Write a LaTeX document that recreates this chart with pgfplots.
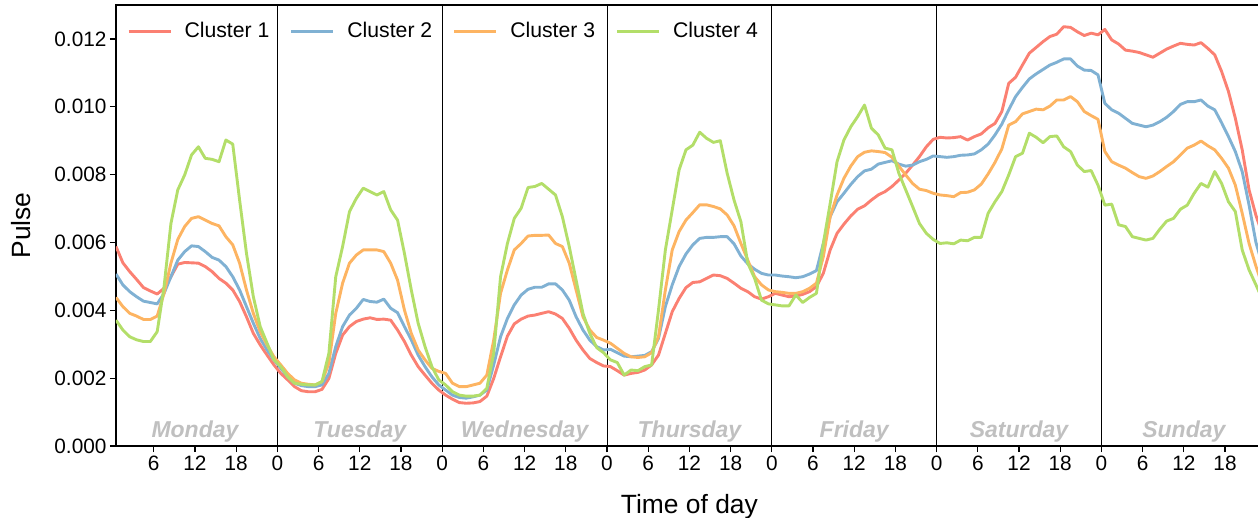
\documentclass[border=0pt]{standalone}
\usepackage{pgfplots}
\pgfplotsset{compat=1.18}
\usepackage{pgfplotstable}
\usepackage{fontspec}
\setmainfont{Liberation Sans}
\definecolor{cA}{HTML}{FB8072}
\definecolor{cB}{HTML}{80B1D3}
\definecolor{cC}{HTML}{FDB462}
\definecolor{cD}{HTML}{B3DE69}
\definecolor{daygray}{HTML}{C0C0C0}

\pgfplotstableread{
x c1 c2 c3 c4
0.5 0.00588 0.00507 0.00438 0.00371
1.5 0.00540 0.00475 0.00411 0.00342
2.5 0.00514 0.00455 0.00391 0.00322
3.5 0.00491 0.00440 0.00383 0.00313
4.5 0.00467 0.00427 0.00373 0.00308
5.5 0.00457 0.00423 0.00373 0.00308
6.5 0.00448 0.00419 0.00383 0.00337
7.5 0.00465 0.00450 0.00450 0.00470
8.5 0.00499 0.00499 0.00539 0.00656
9.5 0.00536 0.00548 0.00609 0.00755
10.5 0.00541 0.00573 0.00647 0.00799
11.5 0.00540 0.00590 0.00671 0.00858
12.5 0.00539 0.00588 0.00676 0.00882
13.5 0.00529 0.00573 0.00666 0.00848
14.5 0.00514 0.00556 0.00656 0.00845
15.5 0.00494 0.00548 0.00649 0.00838
16.5 0.00480 0.00529 0.00617 0.00902
17.5 0.00460 0.00499 0.00593 0.00890
18.5 0.00426 0.00460 0.00539 0.00725
19.5 0.00381 0.00411 0.00460 0.00568
20.5 0.00332 0.00362 0.00391 0.00440
21.5 0.00298 0.00317 0.00337 0.00352
22.5 0.00268 0.00283 0.00298 0.00303
23.5 0.00239 0.00254 0.00263 0.00254
24.5 0.00214 0.00229 0.00239 0.00234
25.5 0.00195 0.00204 0.00214 0.00204
26.5 0.00175 0.00185 0.00195 0.00185
27.5 0.00163 0.00178 0.00185 0.00182
28.5 0.00160 0.00175 0.00182 0.00180
29.5 0.00160 0.00175 0.00180 0.00180
30.5 0.00167 0.00180 0.00190 0.00190
31.5 0.00199 0.00214 0.00244 0.00273
32.5 0.00273 0.00293 0.00391 0.00499
33.5 0.00327 0.00352 0.00480 0.00588
34.5 0.00352 0.00386 0.00539 0.00691
35.5 0.00367 0.00406 0.00563 0.00730
36.5 0.00374 0.00432 0.00578 0.00760
37.5 0.00378 0.00426 0.00578 0.00750
38.5 0.00373 0.00424 0.00578 0.00740
39.5 0.00374 0.00433 0.00573 0.00750
40.5 0.00371 0.00406 0.00539 0.00696
41.5 0.00342 0.00393 0.00489 0.00666
42.5 0.00308 0.00352 0.00401 0.00568
43.5 0.00268 0.00313 0.00332 0.00460
44.5 0.00234 0.00268 0.00283 0.00362
45.5 0.00209 0.00234 0.00254 0.00293
46.5 0.00185 0.00204 0.00229 0.00234
47.5 0.00165 0.00180 0.00220 0.00195
48.5 0.00150 0.00165 0.00214 0.00180
49.5 0.00138 0.00150 0.00185 0.00160
50.5 0.00128 0.00143 0.00175 0.00150
51.5 0.00126 0.00141 0.00175 0.00147
52.5 0.00127 0.00145 0.00180 0.00147
53.5 0.00131 0.00150 0.00185 0.00150
54.5 0.00147 0.00165 0.00209 0.00170
55.5 0.00199 0.00239 0.00312 0.00273
56.5 0.00263 0.00322 0.00450 0.00499
57.5 0.00324 0.00376 0.00519 0.00597
58.5 0.00360 0.00416 0.00578 0.00671
59.5 0.00374 0.00445 0.00597 0.00701
60.5 0.00383 0.00462 0.00619 0.00762
61.5 0.00386 0.00468 0.00621 0.00765
62.5 0.00391 0.00468 0.00621 0.00774
63.5 0.00396 0.00478 0.00622 0.00757
64.5 0.00389 0.00478 0.00597 0.00740
65.5 0.00376 0.00460 0.00588 0.00676
66.5 0.00347 0.00430 0.00539 0.00588
67.5 0.00312 0.00381 0.00460 0.00489
68.5 0.00283 0.00342 0.00381 0.00391
69.5 0.00258 0.00312 0.00342 0.00332
70.5 0.00246 0.00293 0.00320 0.00290
71.5 0.00236 0.00283 0.00312 0.00275
72.5 0.00234 0.00285 0.00303 0.00254
73.5 0.00222 0.00275 0.00288 0.00246
74.5 0.00209 0.00265 0.00273 0.00209
75.5 0.00214 0.00263 0.00263 0.00224
76.5 0.00217 0.00265 0.00261 0.00222
77.5 0.00224 0.00267 0.00263 0.00234
78.5 0.00239 0.00278 0.00275 0.00239
79.5 0.00268 0.00317 0.00322 0.00401
80.5 0.00332 0.00411 0.00460 0.00578
81.5 0.00396 0.00475 0.00578 0.00696
82.5 0.00435 0.00529 0.00632 0.00814
83.5 0.00467 0.00566 0.00666 0.00873
84.5 0.00482 0.00593 0.00688 0.00887
85.5 0.00484 0.00612 0.00711 0.00925
86.5 0.00494 0.00615 0.00711 0.00907
87.5 0.00504 0.00615 0.00706 0.00895
88.5 0.00502 0.00617 0.00699 0.00900
89.5 0.00494 0.00617 0.00681 0.00804
90.5 0.00480 0.00596 0.00649 0.00725
91.5 0.00465 0.00560 0.00597 0.00661
92.5 0.00455 0.00537 0.00548 0.00539
93.5 0.00440 0.00521 0.00499 0.00494
94.5 0.00433 0.00509 0.00475 0.00430
95.5 0.00440 0.00504 0.00460 0.00419
96.5 0.00450 0.00504 0.00455 0.00416
97.5 0.00445 0.00501 0.00453 0.00413
98.5 0.00440 0.00499 0.00450 0.00413
99.5 0.00442 0.00496 0.00450 0.00445
100.5 0.00447 0.00499 0.00455 0.00423
101.5 0.00455 0.00507 0.00465 0.00438
102.5 0.00470 0.00517 0.00480 0.00450
103.5 0.00509 0.00597 0.00558 0.00597
104.5 0.00578 0.00676 0.00676 0.00715
105.5 0.00627 0.00720 0.00740 0.00838
106.5 0.00654 0.00745 0.00789 0.00902
107.5 0.00678 0.00771 0.00825 0.00941
108.5 0.00698 0.00794 0.00853 0.00971
109.5 0.00708 0.00811 0.00866 0.01005
110.5 0.00725 0.00816 0.00870 0.00937
111.5 0.00740 0.00831 0.00868 0.00917
112.5 0.00750 0.00836 0.00865 0.00878
113.5 0.00765 0.00841 0.00851 0.00873
114.5 0.00784 0.00831 0.00825 0.00804
115.5 0.00804 0.00825 0.00799 0.00755
116.5 0.00828 0.00828 0.00774 0.00706
117.5 0.00853 0.00838 0.00757 0.00656
118.5 0.00882 0.00845 0.00753 0.00627
119.5 0.00904 0.00855 0.00745 0.00609
120.5 0.00910 0.00853 0.00740 0.00597
121.5 0.00908 0.00851 0.00738 0.00599
122.5 0.00909 0.00853 0.00735 0.00596
123.5 0.00912 0.00857 0.00747 0.00607
124.5 0.00902 0.00858 0.00748 0.00605
125.5 0.00912 0.00861 0.00755 0.00615
126.5 0.00920 0.00873 0.00772 0.00615
127.5 0.00938 0.00890 0.00802 0.00686
128.5 0.00951 0.00917 0.00836 0.00720
129.5 0.00986 0.00949 0.00876 0.00750
130.5 0.01069 0.00991 0.00946 0.00799
131.5 0.01087 0.01030 0.00956 0.00853
132.5 0.01123 0.01057 0.00979 0.00863
133.5 0.01158 0.01082 0.00986 0.00922
134.5 0.01175 0.01097 0.00993 0.00910
135.5 0.01192 0.01110 0.00991 0.00894
136.5 0.01207 0.01123 0.01002 0.00912
137.5 0.01214 0.01131 0.01020 0.00914
138.5 0.01236 0.01141 0.01020 0.00882
139.5 0.01234 0.01141 0.01030 0.00868
140.5 0.01221 0.01120 0.01015 0.00828
141.5 0.01210 0.01108 0.00986 0.00809
142.5 0.01217 0.01107 0.00974 0.00812
143.5 0.01212 0.01094 0.00963 0.00769
144.5 0.01228 0.01010 0.00868 0.00710
145.5 0.01197 0.00991 0.00838 0.00713
146.5 0.01185 0.00981 0.00828 0.00652
147.5 0.01167 0.00966 0.00819 0.00647
148.5 0.01164 0.00951 0.00806 0.00617
149.5 0.01160 0.00946 0.00794 0.00612
150.5 0.01153 0.00941 0.00789 0.00607
151.5 0.01146 0.00946 0.00796 0.00612
152.5 0.01158 0.00956 0.00809 0.00639
153.5 0.01170 0.00969 0.00824 0.00663
154.5 0.01179 0.00986 0.00838 0.00671
155.5 0.01187 0.01007 0.00858 0.00698
156.5 0.01184 0.01015 0.00878 0.00710
157.5 0.01182 0.01015 0.00887 0.00745
158.5 0.01189 0.01020 0.00899 0.00774
159.5 0.01172 0.01002 0.00885 0.00763
160.5 0.01153 0.00991 0.00873 0.00809
161.5 0.01104 0.00953 0.00848 0.00774
162.5 0.01045 0.00912 0.00819 0.00720
163.5 0.00966 0.00868 0.00769 0.00691
164.5 0.00873 0.00809 0.00686 0.00578
165.5 0.00755 0.00710 0.00597 0.00519
166.5 0.00680 0.00600 0.00530 0.00475
167.5 0.00620 0.00530 0.00470 0.00430
}\datatable

\begin{document}
\begin{tikzpicture}
\begin{axis}[
  scale only axis,
  width=1146.8pt, height=441pt,
  xmin=0.5, xmax=167.5, ymin=0, ymax=0.013,
  axis line style={line width=1.2pt},
  tick style={black, line width=1.2pt},
  tick align=outside, major tick length=6pt,
  tick pos=left,
  xtick={6,12,...,162},
  xticklabels={6,12,18,0,6,12,18,0,6,12,18,0,6,12,18,0,6,12,18,0,6,12,18,0,6,12,18},
  ytick={0,0.002,0.004,0.006,0.008,0.010,0.012},
  scaled y ticks=false,
  yticklabel style={/pgf/number format/.cd, fixed, fixed zerofill, precision=3},
  /pgf/number format/assume math mode=true,
  ticklabel style={font=\fontsize{20.8}{24}\selectfont},
  extra x ticks={24,48,72,96,120,144},
  extra x tick labels={},
  extra x tick style={grid=major, major grid style={black, line width=0.9pt}},
  xlabel={Time of day}, ylabel={Pulse},
  every axis x label/.style={at={(axis description cs:0.5,0)}, anchor=base, yshift=-67pt, font=\fontsize{26.4}{31}\selectfont},
  every axis y label/.style={at={(axis description cs:-0.0828,0.5)}, rotate=90, anchor=center, font=\fontsize{26.4}{31}\selectfont},
  legend columns=4,
  legend style={draw=none, fill=none, inner sep=0pt,
    at={(axis description cs:0.0095,0.941)}, anchor=west,
    font=\fontsize{21.2}{25}\selectfont,
    /tikz/every odd column/.append style={column sep=10.5pt},
    /tikz/every even column/.append style={column sep=18.5pt}},
  legend image code/.code={\draw[#1, line width=3pt] (0pt,0pt) -- (42pt,0pt);},
  every axis plot/.append style={line width=2.9pt, line join=round},
]
\addplot[cA] table[x=x, y=c1] {\datatable};
\addlegendentry{Cluster 1}
\addplot[cB] table[x=x, y=c2] {\datatable};
\addlegendentry{Cluster 2}
\addplot[cC] table[x=x, y=c3] {\datatable};
\addlegendentry{Cluster 3}
\addplot[cD] table[x=x, y=c4] {\datatable};
\addlegendentry{Cluster 4}
\coordinate (O) at (rel axis cs:0,0);
\tikzset{dayl/.style={anchor=base, text=daygray, font=\fontsize{23}{27}\selectfont\bfseries\itshape}}
\node[dayl] at (axis cs:12,0.00024) {Monday};
\node[dayl] at (axis cs:36,0.00024) {Tuesday};
\node[dayl] at (axis cs:60,0.00024) {Wednesday};
\node[dayl] at (axis cs:84,0.00024) {Thursday};
\node[dayl] at (axis cs:108,0.00024) {Friday};
\node[dayl] at (axis cs:132,0.00024) {Saturday};
\node[dayl] at (axis cs:156,0.00024) {Sunday};
\end{axis}
\pgfresetboundingbox
\useasboundingbox ([shift={(-116pt,-71pt)}]O) rectangle ([shift={(1142pt,446pt)}]O);
\end{tikzpicture}
\end{document}
